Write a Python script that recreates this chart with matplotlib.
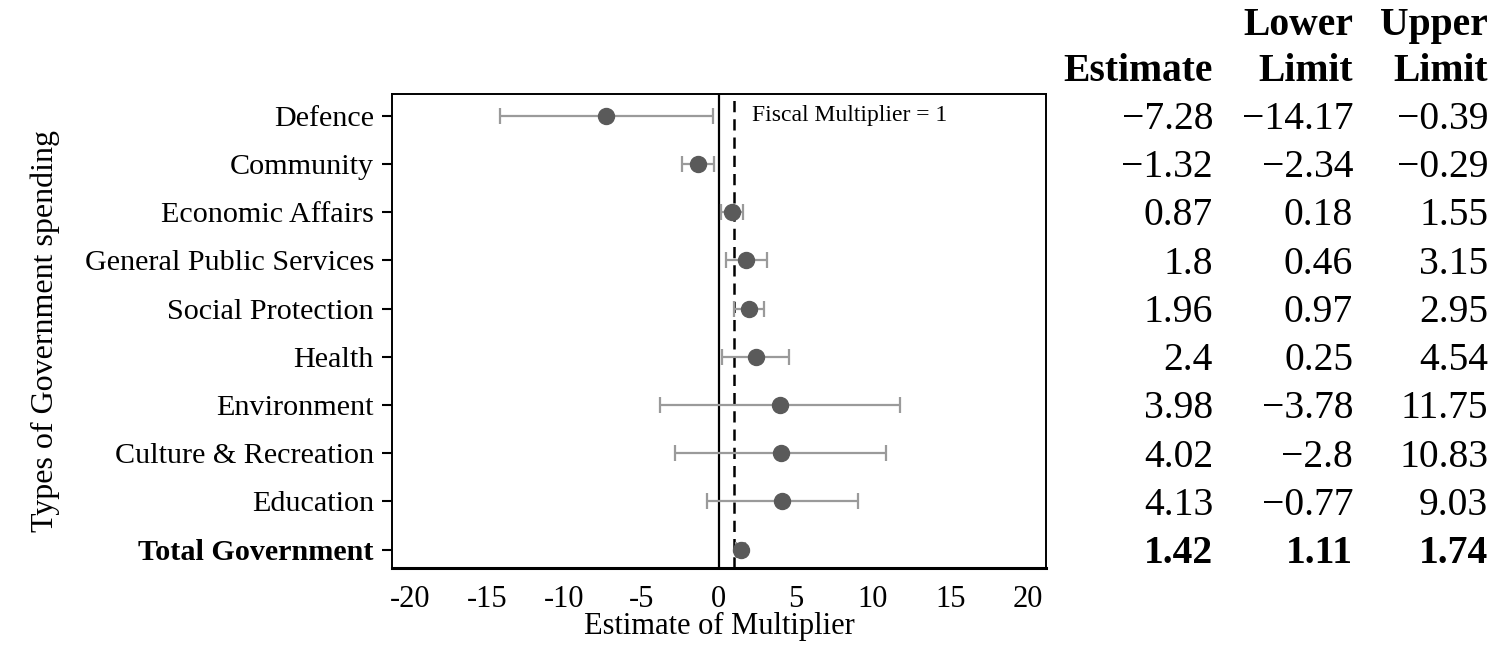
import matplotlib
matplotlib.use("Agg")
import matplotlib.pyplot as plt
from matplotlib.transforms import blended_transform_factory

plt.rcParams['font.family'] = ['Liberation Serif', 'DejaVu Serif']
plt.rcParams['axes.unicode_minus'] = False

categories = ["Defence", "Community", "Economic Affairs", "General Public Services",
              "Social Protection", "Health", "Environment", "Culture & Recreation",
              "Education", "Total Government"]
estimate = [-7.28, -1.32, 0.87, 1.8, 1.96, 2.4, 3.98, 4.02, 4.13, 1.42]
lower = [-14.17, -2.34, 0.18, 0.46, 0.97, 0.25, -3.78, -2.8, -0.77, 1.11]
upper = [-0.39, -0.29, 1.55, 3.15, 2.95, 4.54, 11.75, 10.83, 9.03, 1.74]
est_text = ["−7.28", "−1.32", "0.87", "1.8", "1.96", "2.4", "3.98", "4.02", "4.13", "1.42"]
low_text = ["−14.17", "−2.34", "0.18", "0.46", "0.97", "0.25", "−3.78", "−2.8", "−0.77", "1.11"]
up_text = ["−0.39", "−0.29", "1.55", "3.15", "2.95", "4.54", "11.75", "10.83", "9.03", "1.74"]
xticks = [-20, -15, -10, -5, 0, 5, 10, 15, 20]
xticklabels = ["-20", "-15", "-10", "-5", "0", "5", "10", "15", "20"]

fig = plt.figure(figsize=(15.02, 6.68), dpi=100)
ax = fig.add_axes([0.261, 0.1497, 0.4354, 0.7096])

ypos = list(range(len(categories)))
xerr = [[e - l for e, l in zip(estimate, lower)], [u - e for e, u in zip(estimate, upper)]]

ax.axvline(0, color='black', lw=1.6, zorder=1)
ax.axvline(1, color='black', lw=1.8, ls=(0, (4.5, 2.8)), zorder=1)
ax.errorbar(estimate, ypos, xerr=xerr, fmt='none', ecolor='#9a9a9a', elinewidth=1.6,
            capsize=5.5, capthick=1.6, zorder=2)
ax.plot(estimate, ypos, 'o', color='#5a5a5a', markersize=11.5, zorder=3)

ax.set_xlim(-21.15, 21.2)
ax.set_ylim(9.38, -0.45)
ax.set_xticks(xticks)
ax.set_xticklabels(xticklabels, fontsize=22)
ax.tick_params(axis='x', length=0, pad=12)
ax.set_yticks(ypos)
ax.set_yticklabels(categories, fontsize=21.7)
ax.tick_params(axis='y', length=7, width=1.5, pad=6)
ax.get_yticklabels()[-1].set_fontweight('bold')
for s in ['left', 'right', 'top']:
    ax.spines[s].set_linewidth(1.4)
ax.spines['bottom'].set_linewidth(2.2)

ax.set_xlabel("Estimate of Multiplier", fontsize=22, labelpad=-1)
ax.set_ylabel("Types of Government spending", fontsize=23, labelpad=18)
ax.text(2.15, 0, "Fiscal Multiplier = 1", fontsize=17, va='center', ha='left', zorder=4)

tr = blended_transform_factory(fig.transFigure, ax.transData)
cols_x = [0.8076, 0.9008, 0.9907]
tsize = 28.5
dy = 0.08
headers = [(1, -1.95, "Lower"), (2, -1.95, "Upper"), (0, -1.0, "Estimate"),
           (1, -1.0, "Limit"), (2, -1.0, "Limit")]
for c, y, t in headers:
    ax.text(cols_x[c], y + dy, t, transform=tr, ha='right', va='center', fontsize=tsize,
            fontweight='bold', clip_on=False)
for i, (a, b, c) in enumerate(zip(est_text, low_text, up_text)):
    w = 'bold' if i == len(categories) - 1 else 'normal'
    for x, t in zip(cols_x, (a, b, c)):
        ax.text(x, i + dy, t, transform=tr, ha='right', va='center', fontsize=tsize,
                fontweight=w, clip_on=False)

fig.savefig("out.png", dpi=100)
